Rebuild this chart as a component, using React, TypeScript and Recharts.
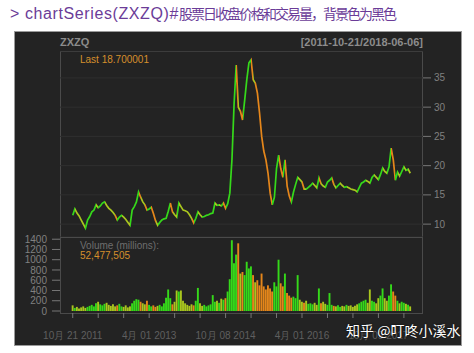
import React from 'react';
import {
  ComposedChart,
  Line,
  Bar,
  Cell,
  XAxis,
  YAxis,
  CartesianGrid,
} from 'recharts';

// closing price, one reading every half month from 2011-10-21 to 2018-06-06
const closes = [
  11.5, 12.6, 11.9, 11.4, 10.7, 10.0, 9.3, 10.7, 11.3, 12.1,
  12.4, 13.3, 12.8, 13.1, 13.6, 13.8, 13.2, 12.7, 12.4, 12.0,
  11.5, 10.7, 11.2, 11.5, 11.2, 10.8, 10.3, 9.8, 12.4, 13.0,
  13.8, 15.5, 14.6, 13.8, 13.3, 12.4, 12.6, 12.9, 11.8, 10.6,
  9.8, 10.3, 10.7, 10.9, 11.0, 12.2, 13.6, 12.1, 11.6, 11.2,
  13.6, 13.0, 12.4, 12.3, 12.1, 11.6, 11.0, 10.2, 11.0, 12.1,
  11.6, 11.2, 11.3, 11.5, 11.6, 11.8, 11.9, 13.6, 13.2, 13.3,
  13.1, 13.6, 12.7, 13.5, 15.3, 21.0, 30.5, 37.2, 30.0, 29.3,
  27.8, 31.2, 34.7, 37.6, 38.1, 34.7, 34.1, 32.4, 29.0, 25.0,
  22.5, 21.0, 18.7, 15.3, 13.3, 14.6, 19.5, 21.8, 19.5, 18.0,
  21.0, 16.5, 14.8, 13.8, 15.5, 16.8, 18.0, 17.6, 17.2, 16.0,
  16.0, 16.3, 16.6, 17.0, 16.6, 16.2, 17.9, 16.9, 16.5, 16.3,
  17.2, 17.5, 17.9, 16.8, 16.2, 16.6, 17.0, 16.6, 16.3, 16.4,
  16.2, 16.0, 15.9, 15.8, 15.5, 16.3, 17.0, 17.2, 17.5, 17.3,
  17.0, 18.0, 18.4, 18.0, 17.6, 18.5, 19.6, 19.0, 18.7, 19.8,
  23.0, 21.0, 17.5, 18.9, 18.2, 19.0, 19.8, 19.2, 19.4, 18.7,
];

// volume (millions), same half-month readings
const volumes = [
  110, 60, 80, 50, 70, 90, 60, 80, 100, 120,
  90, 150, 180, 130, 110, 140, 160, 120, 100, 130,
  90, 110, 140, 90, 80, 110, 70, 90, 150, 200,
  230, 220, 180, 150, 130, 200, 120, 90, 110, 80,
  100, 120, 90, 150, 260, 420, 250, 130, 180, 400,
  380, 400, 200, 150, 120, 100, 130, 110, 200, 450,
  150, 100, 120, 90, 110, 130, 310, 180, 200, 160,
  240, 220, 250, 380, 620, 1380, 930, 1100, 1320, 730,
  760, 700, 960, 830, 870, 700, 560, 600, 500, 730,
  480, 420, 500, 440, 380, 560, 480, 1000, 540, 480,
  730, 350, 300, 260, 280, 250, 700, 220, 180, 160,
  200, 140, 150, 130, 160, 120, 440, 150, 180, 140,
  120, 350, 120, 100, 90, 110, 80, 100, 90, 120,
  100, 110, 80, 100, 130, 150, 180, 200, 220, 160,
  420, 200, 180, 150, 250, 300, 440, 250, 200, 300,
  520, 380, 300, 200, 150, 180, 160, 140, 120, 90,
];

const xTicks = [0, 12, 24, 36, 48, 60, 72, 84, 96, 108, 120, 132, 144, 156];
const xLabelAt = [0, 36, 72, 108, 144];
const xLabels = ['10月 21 2011', '4月 01 2013', '10月 08 2014', '4月 01 2016', '10月 09 2017'];
const priceTicks = [10, 15, 20, 25, 30, 35];
const volumeTicks = [0, 200, 400, 600, 800, 1000, 1200, 1400];

const GREEN = '#35d91a';
const YELLOW = '#a9c61e';
const ORANGE = '#e5861a';

const moveColor = (i: number) => {
  if (i === 0) return YELLOW;
  const d = closes[i] - closes[i - 1];
  if (d > 0) return GREEN;
  if (d < -0.8) return ORANGE;
  return YELLOW;
};

const rows = closes.map((c, i) => ({ i, close: c, volume: volumes[i] }));

const fmtX = (v: number) => {
  const k = xLabelAt.indexOf(v);
  return k >= 0 ? xLabels[k] : '';
};

const txt = (left: number, top: number, size: number, color: string, bold = false): React.CSSProperties => ({
  position: 'absolute',
  left,
  top,
  fontSize: size,
  lineHeight: `${size}px`,
  color,
  fontWeight: bold ? 'bold' : 'normal',
  fontFamily: '"Liberation Sans", Arial, sans-serif',
  whiteSpace: 'nowrap',
});

const axisFont = { fill: '#808080', fontSize: 10, fontFamily: '"Liberation Sans", Arial, sans-serif' };

const App: React.FC = () => {
  const n = closes.length - 1;
  return (
    <div style={{ position: 'absolute', left: 0, top: 0, width: 474, height: 353, background: '#fff', overflow: 'hidden' }}>
      {/* title line */}
      <div style={{ position: 'absolute', left: 10, top: 4, whiteSpace: 'nowrap', color: '#6b3c98', lineHeight: '18px' }}>
        <span style={{ fontFamily: '"Liberation Sans", Arial, sans-serif', fontSize: 16, letterSpacing: 0.6 }}>
          {'> chartSeries(ZXZQ)#'}
        </span>
        <span style={{ fontFamily: '"Noto Sans CJK SC", sans-serif', fontSize: 14, letterSpacing: -2 }}>
          股票日收盘价格和交易量，背景色为黑色
        </span>
      </div>

      {/* dark chart panel */}
      <div style={{ position: 'absolute', left: 15, top: 32, width: 446, height: 313, background: '#232323', boxShadow: '0 0 0 1px #9a9a9a' }} />
      <div style={{ position: 'absolute', left: 60, top: 51, width: 363, height: 187, border: '1px solid #4a4a4a', boxSizing: 'border-box' }} />
      <div style={{ position: 'absolute', left: 60, top: 237, width: 363, height: 77, border: '1px solid #4a4a4a', boxSizing: 'border-box' }} />

      <div style={txt(60, 37, 11, '#8c8c8c', true)}>ZXZQ</div>
      <div style={{ ...txt(0, 37, 11, '#8c8c8c', true), left: 'auto', right: 474 - 423 }}>[2011-10-21/2018-06-06]</div>

      <div style={{ position: 'absolute', left: 15, top: 51 }}>
        <ComposedChart width={446} height={186} data={rows} margin={{ top: 0, right: 0, bottom: 0, left: 45 }}>
          <defs>
            <linearGradient id="priceStroke" x1="0" y1="0" x2="1" y2="0">
              {closes.slice(1).flatMap((_, k) => {
                const i = k + 1;
                const c = moveColor(i);
                return [
                  <stop key={`a${i}`} offset={(i - 1) / n} stopColor={c} />,
                  <stop key={`b${i}`} offset={i / n} stopColor={c} />,
                ];
              })}
            </linearGradient>
          </defs>
          <CartesianGrid horizontal vertical={false} stroke="#2f2f2f" />
          <XAxis dataKey="i" type="number" domain={[-6, 165]} ticks={xTicks} hide />
          <YAxis
            orientation="right"
            width={38}
            domain={[7.8, 39.6]}
            ticks={priceTicks}
            interval={0}
            axisLine={false}
            tickSize={8}
            tickMargin={3}
            tickLine={{ stroke: '#777' }}
            tick={axisFont}
          />
          <Line
            type="linear"
            dataKey="close"
            stroke="url(#priceStroke)"
            strokeWidth={1.7}
            dot={false}
            isAnimationActive={false}
          />
        </ComposedChart>
      </div>

      <div style={{ position: 'absolute', left: 15, top: 227 }}>
        <ComposedChart width={446} height={118} data={rows} margin={{ top: 10, right: 38, bottom: 0, left: 0 }}>
          <XAxis
            dataKey="i"
            type="number"
            domain={[-6, 165]}
            ticks={xTicks}
            tickFormatter={fmtX}
            interval={0}
            height={32}
            axisLine={false}
            tickSize={5}
            tickMargin={14}
            tickLine={{ stroke: '#777' }}
            tick={{ ...axisFont, fill: '#5f5f5f' }}
          />
          <YAxis
            width={45}
            domain={[-39, 1443]}
            ticks={volumeTicks}
            interval={0}
            axisLine={false}
            tickSize={8}
            tickMargin={5}
            tickLine={{ stroke: '#777' }}
            tick={axisFont}
          />
          <Bar dataKey="volume" barSize={2.3} isAnimationActive={false}>
            {rows.map((r) => (
              <Cell key={r.i} fill={moveColor(r.i)} />
            ))}
          </Bar>
        </ComposedChart>
      </div>

      <div style={txt(80, 55, 10, '#d58f2c')}>Last 18.700001</div>
      <div style={txt(80, 241, 10, '#6e6e6e')}>Volume (millions):</div>
      <div style={txt(80, 251, 10, '#d58f2c')}>52,477,505</div>

      <div
        style={{
          position: 'absolute',
          left: 346,
          top: 322,
          fontSize: 14,
          lineHeight: '16px',
          color: '#fff',
          fontFamily: '"Noto Sans CJK SC", sans-serif',
          whiteSpace: 'nowrap',
          textShadow: '0 0 2px #000',
        }}
      >
        知乎 @叮咚小溪水
      </div>
    </div>
  );
};

export default App;
